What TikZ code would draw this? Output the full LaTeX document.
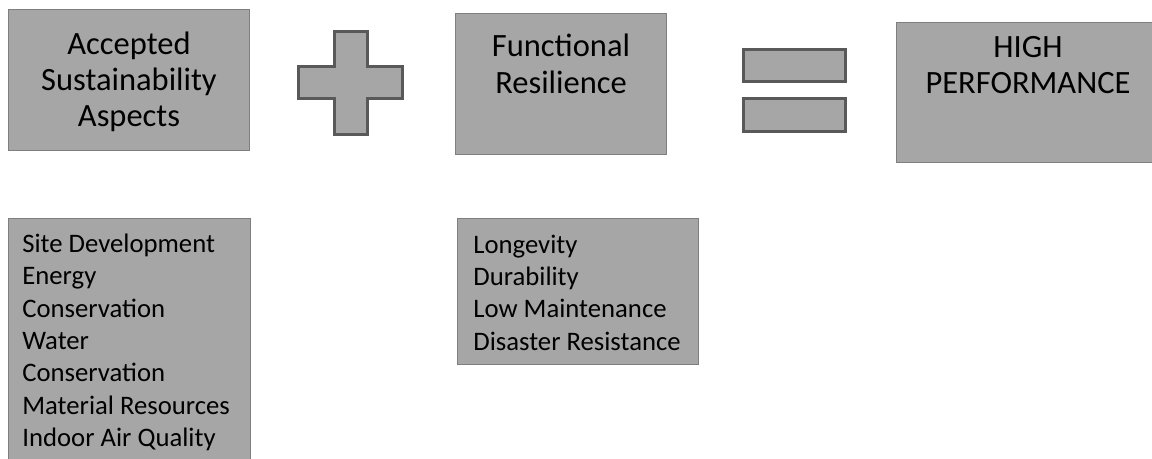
\documentclass[tikz,border=0pt]{standalone}
\usepackage{fontspec}
\setmainfont{Carlito}
\usetikzlibrary{positioning}
\definecolor{boxgray}{HTML}{A6A6A6}
\definecolor{edgegray}{HTML}{7F7F7F}
\definecolor{signgray}{HTML}{595959}
\tikzset{box/.style={draw=edgegray, fill=boxgray, line width=0.6pt, anchor=north west, inner sep=0pt},
  head/.style={align=center, font=\fontsize{18.5}{20.6}\selectfont, inner sep=0pt},
  list/.style={align=left, font=\fontsize{15.2}{18.4}\selectfont, inner sep=0pt},
  sign/.style={draw=signgray, fill=boxgray, line width=1.7pt}}

\begin{document}
\begin{tikzpicture}[x=0.02cm, y=-0.02cm]
\useasboundingbox (0,0) rectangle (1152,459);
\node [box, minimum width=4.82cm, minimum height=2.82cm] (acc) at (8,9) {};
\node [box, minimum width=4.22cm, minimum height=2.82cm] (fun) at (455,13) {};
\node [box, minimum width=6cm, minimum height=2.8cm] (high) at (896,22) {};
\node [box, minimum width=4.84cm, minimum height=6cm] (acclist) at (8,218) {};
\node [box, minimum width=4.82cm, minimum height=2.92cm] (funlist) at (457,218) {};

\node [head, below=0.45cm of acc.north] (acctext) {Accepted\\Sustainability\\Aspects};
\node [head, below=0.42cm of fun.north] (funtext) {Functional\\Resilience};
\node [head, below=0.28cm of high.north west, xshift=2.64cm] (hightext) {HIGH\\PERFORMANCE};

\node [list, below right=0.31cm and 0.28cm of acclist.north west] (acclisttext)
  {Site Development\\Energy\\Conservation\\Water\\Conservation\\Material Resources\\Indoor Air Quality};
\node [list, below right=0.33cm and 0.32cm of funlist.north west] (funlisttext)
  {Longevity\\Durability\\Low Maintenance\\Disaster Resistance};

\draw [sign] (334.5,31.5) -- (367.5,31.5) -- (367.5,66.5) -- (402.5,66.5) -- (402.5,98.5)
  -- (367.5,98.5) -- (367.5,134.5) -- (334.5,134.5) -- (334.5,98.5) -- (298.5,98.5)
  -- (298.5,66.5) -- (334.5,66.5) -- cycle;
\draw [sign] (743.5,49.5) rectangle (845.5,81.5);
\draw [sign] (743.5,98.5) rectangle (845.5,131.5);

\end{tikzpicture}
\end{document}
